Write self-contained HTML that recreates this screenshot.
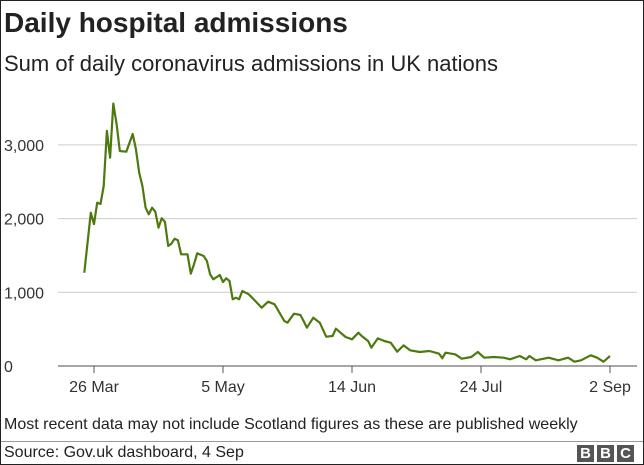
<!DOCTYPE html>
<html><head><meta charset="utf-8"><style>
body{margin:0;background:#fff;}
#wrap{position:relative;width:644px;height:465px;box-sizing:border-box;border:1px solid #222;overflow:hidden;font-family:"Liberation Sans",Arial,sans-serif;}
.t{position:absolute;white-space:nowrap;color:#222;}
</style></head><body>
<div id="wrap">
<div class="t" style="left:3px;top:6px;font-size:28px;font-weight:bold;">Daily hospital admissions</div>
<div class="t" style="left:3px;top:50px;font-size:22px;">Sum of daily coronavirus admissions in UK nations</div>
<svg id="chart" width="644" height="465" style="position:absolute;left:-1px;top:-1px;"></svg>
<div class="t" style="left:3px;top:415px;font-size:16px;">Most recent data may not include Scotland figures as these are published weekly</div>
<div style="position:absolute;left:0;top:440px;width:644px;height:1px;background:#999;"></div>
<div class="t" style="left:3px;top:443px;font-size:16px;">Source: Gov.uk dashboard, 4 Sep</div>
<div style="position:absolute;left:576px;top:444px;display:flex;gap:3px;">
<span style="width:17px;height:17px;background:#555;color:#fff;font-weight:bold;font-size:15px;text-align:center;line-height:17px;">B</span>
<span style="width:17px;height:17px;background:#555;color:#fff;font-weight:bold;font-size:15px;text-align:center;line-height:17px;">B</span>
<span style="width:17px;height:17px;background:#555;color:#fff;font-weight:bold;font-size:15px;text-align:center;line-height:17px;">C</span>
</div>
</div>
<script>
const days=[-3,-1,0,1,2,3,4,5,6,7,8,10,12,13,14,15,16,17,18,19,20,21,22,23,24,25,26,27,29,30,31,32,34,35,36,37,39,40,41,42,43,44,45,46,48,50,52,54,56,59,60,62,64,65,66,68,70,72,74,75,78,80,82,83,85,86,88,90,92,94,96,98,101,104,107,108,109,112,114,117,119,121,124,127,129,132,134,135,137,141,144,147,149,151,154,156,158,160];
const admissions=[1266,2080,1925,2216,2198,2442,3190,2827,3560,3284,2917,2908,3148,2944,2623,2442,2148,2058,2148,2094,1877,2004,1958,1628,1660,1727,1705,1515,1515,1252,1380,1529,1492,1425,1244,1176,1235,1140,1190,1153,905,927,905,1018,973,882,791,872,837,611,588,710,692,611,520,655,588,398,407,506,393,362,452,407,339,249,375,339,316,194,280,213,190,204,167,104,181,159,99,122,190,113,122,113,91,136,91,136,77,113,77,113,59,77,145,113,59,136];
const yTicks=[0,1000,2000,3000];
const yTickLabels=["0","1,000","2,000","3,000"];
const xTicks=[0,40,80,120,160];
const xTickLabels=["26 Mar","5 May","14 Jun","24 Jul","2 Sep"];
const NS="http://www.w3.org/2000/svg";
const svg=document.getElementById('chart');
const X=d=>94+d*3.225;
const Y=v=>366-v*0.0737;
function mk(t,a){const e=document.createElementNS(NS,t);for(const k in a)e.setAttribute(k,a[k]);svg.appendChild(e);return e;}
yTicks.forEach((v,i)=>{
  const g=mk('line',{x1:58,x2:637,y1:Y(v),y2:Y(v),stroke:i===0?'#888':'#ccc','stroke-width':i===0?1.5:1});
  
  
  const t=mk('text',{x:4,y:Y(v)+6,'font-size':16,fill:'#333','font-family':'Liberation Sans, Arial, sans-serif'});
  t.textContent=yTickLabels[i];
  
  
});
xTicks.forEach((d,i)=>{
  const l=mk('line',{x1:X(d),x2:X(d),y1:Y(0),y2:Y(0)+7,stroke:'#555','stroke-width':1});
  
  
  const t=mk('text',{x:X(d),y:Y(0)+26,'font-size':16,fill:'#333','text-anchor':'middle','font-family':'Liberation Sans, Arial, sans-serif'});
  t.textContent=xTickLabels[i];
  
  
});
const p=mk('path',{d:days.map((d,i)=>(i?'L':'M')+X(d).toFixed(1)+','+Y(admissions[i]).toFixed(1)).join(''),fill:'none',stroke:'#4d7a0f','stroke-width':2.2,'stroke-linejoin':'round'});


</script>
</body></html>
